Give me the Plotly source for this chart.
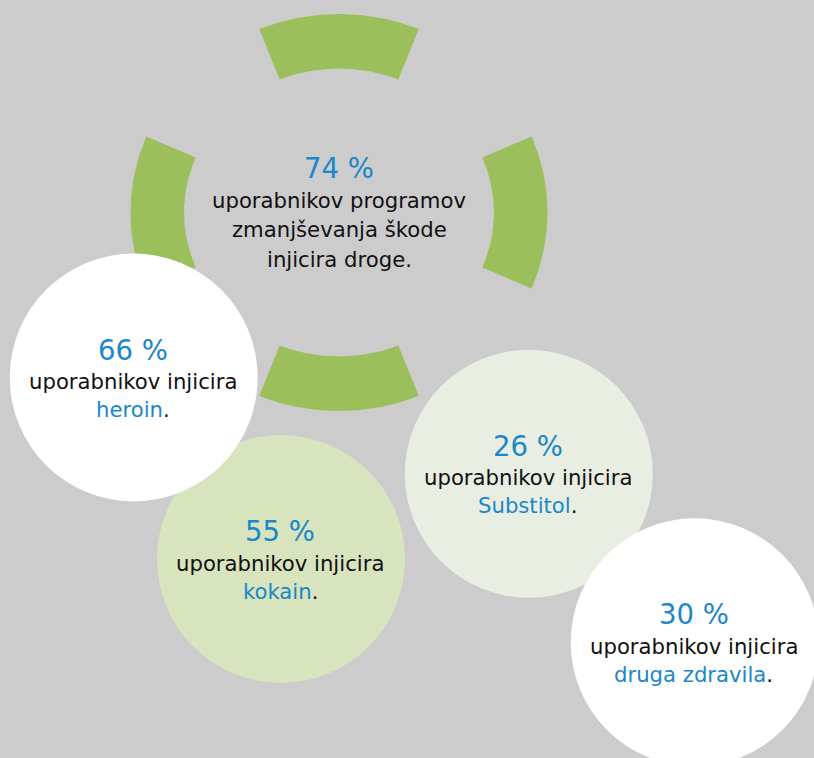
import numpy as np
import plotly.graph_objects as go

# --- data -------------------------------------------------------------
main_share = 74
main_lines = ["uporabnikov programov", "zmanjševanja škode", "injicira droge."]

substances = ["heroin", "kokain", "Substitol", "druga zdravila"]
shares = [66, 55, 26, 30]
caption = "uporabnikov injicira"

# --- style / layout ---------------------------------------------------
W, H = 814, 758
BG = "#cccccc"
GREEN = "#9bbf5b"
BLUE = "#1a87c9"
BLACK = "#111111"
FONT = "Verdana, DejaVu Sans, sans-serif"
HEAD_SIZE = 27.5
BODY_SIZE = 21.2

ring_center = (339, 212.5)
ring_outer = (208.5, 198.5)   # horizontal / vertical radii
ring_inner = (155, 144)
segment_mid_angles = [90, 180, 0, 270]
segment_span = 45

bubble_centers = {
    "heroin": (133.7, 377.5),
    "kokain": (281, 559),
    "Substitol": (528.8, 473.8),
    "druga zdravila": (694.7, 642.3),
}
bubble_fill = {
    "heroin": "#ffffff",
    "kokain": "#d7e4bd",
    "Substitol": "#e9eee3",
    "druga zdravila": "#ffffff",
}
bubble_r = 124
draw_order = ["kokain", "heroin", "Substitol", "druga zdravila"]

fig = go.Figure()

# ring segments around the headline figure
cx, cy = ring_center
for mid in segment_mid_angles:
    t = np.radians(np.linspace(mid - segment_span / 2, mid + segment_span / 2, 60))
    xo = cx + ring_outer[0] * np.cos(t)
    yo = cy - ring_outer[1] * np.sin(t)
    xi = cx + ring_inner[0] * np.cos(t[::-1])
    yi = cy - ring_inner[1] * np.sin(t[::-1])
    fig.add_trace(go.Scatter(
        x=np.concatenate([xo, xi, xo[:1]]),
        y=np.concatenate([yo, yi, yo[:1]]),
        mode="lines", fill="toself", fillcolor=GREEN,
        line=dict(width=0, color=GREEN), hoverinfo="skip", showlegend=False,
    ))

# bubbles
shapes = []
for name in draw_order:
    bx, by = bubble_centers[name]
    shapes.append(dict(
        type="circle", xref="x", yref="y", layer="above",
        x0=bx - bubble_r, x1=bx + bubble_r, y0=by - bubble_r, y1=by + bubble_r,
        fillcolor=bubble_fill[name], line=dict(width=0),
    ))

annotations = []


def text_block(x, y, share, lines, gap_first=32, gap=29.5):
    annotations.append(dict(
        x=x, y=y, xref="x", yref="y", text=f"{share} %", showarrow=False,
        font=dict(family=FONT, size=HEAD_SIZE, color=BLUE), xanchor="center", yanchor="middle",
    ))
    yy = y + gap_first
    for ln in lines:
        annotations.append(dict(
            x=x, y=yy, xref="x", yref="y", text=ln, showarrow=False,
            font=dict(family=FONT, size=BODY_SIZE, color=BLACK), xanchor="center", yanchor="middle",
        ))
        yy += gap


text_block(cx, 168, main_share, main_lines)

for name, share in zip(substances, shares):
    bx, by = bubble_centers[name]
    last = f"<span style='color:{BLUE}'>{name}</span>."
    text_block(bx - 1, by - 28, share, [caption, last], gap_first=32, gap=28)

fig.update_layout(
    width=W, height=H,
    margin=dict(l=0, r=0, t=0, b=0),
    paper_bgcolor=BG, plot_bgcolor=BG,
    xaxis=dict(range=[0, W], visible=False, fixedrange=True),
    yaxis=dict(range=[H, 0], visible=False, fixedrange=True),
    shapes=shapes, annotations=annotations,
    showlegend=False,
)

fig.write_html("out.html")
